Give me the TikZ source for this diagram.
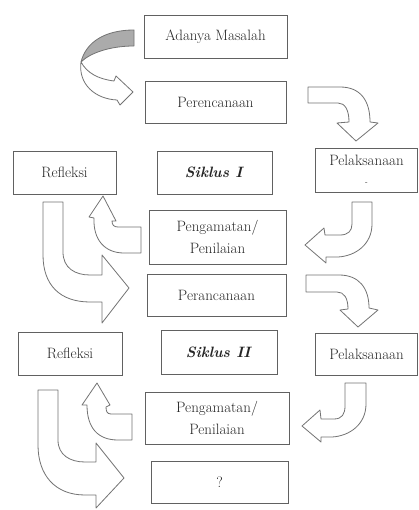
\documentclass[tikz,border=0pt]{standalone}
\begin{document}
\begin{tikzpicture}[x=1pt,y=-1pt,
  box/.style={draw=black!62, line width=0.9pt, fill=white, text=black!85,
    font=\fontsize{15}{22}\selectfont, align=center, inner sep=2pt},
  arr/.style={draw=black!55, fill=white, line width=0.8pt, line join=round},
  arrback/.style={draw=black!55, fill=black!33, line width=0.8pt, line join=round}]
\useasboundingbox (0,0) rectangle (419,510);

% boxes
\node[box, minimum width=143pt, minimum height=43pt] (adanya) at (215.5,36.5) {Adanya Masalah};
\node[box, minimum width=141pt, minimum height=42pt] (peren) at (215.5,102) {Perencanaan};
\node[box, minimum width=103pt, minimum height=43pt] (ref1) at (64.5,172.5) {Refleksi};
\node[box, minimum width=115pt, minimum height=43pt] (sik1) at (214.5,172.5) {\textbf{\textit{Siklus I}}};
\node[box, minimum width=102pt, minimum height=44pt, font=\fontsize{15}{19}\selectfont] (pel1) at (366.5,170) {Pelaksanaan\\{\scriptsize -}};
\node[box, minimum width=137pt, minimum height=54pt] (peng1) at (217.5,237) {Pengamatan/\\Penilaian};
\node[box, minimum width=139pt, minimum height=42pt] (peran) at (216.5,295) {Perancanaan};
\node[box, minimum width=104pt, minimum height=43pt] (ref2) at (70,353.5) {Refleksi};
\node[box, minimum width=116pt, minimum height=44pt] (sik2) at (219,352) {\textbf{\textit{Siklus II}}};
\node[box, minimum width=102pt, minimum height=42pt] (pel2) at (366.5,354) {Pelaksanaan};
\node[box, minimum width=144pt, minimum height=52pt] (peng2) at (217,418) {Pengamatan/\\Penilaian};
\node[box, minimum width=137pt, minimum height=42pt] (q) at (219.5,482) {?};

% arrow 1: curved arrow from Adanya Masalah to Perencanaan
\path[arrback] (134,30) .. controls (105,30) and (86,42) .. (81,62)
  .. controls (90,53) and (110,46) .. (134,46) -- cycle;
\path[arr] (81,62) .. controls (78,84) and (95,99) .. (117,100)
  -- (120,105) -- (133,92) -- (116,76) -- (114,81)
  .. controls (98,79) and (87,73) .. (81,62) -- cycle;

% arrow 2: Perencanaan -> Pelaksanaan I
\path[arr] (308,87) -- (340,87) .. controls (360,87) and (370,100) .. (370,122)
  -- (378,123) -- (356,141) -- (337,123) -- (349,122)
  .. controls (349,110) and (345,103) .. (338,103) -- (308,103) -- cycle;

% arrow 3: Pelaksanaan I -> Pengamatan I
\path[arr] (352,202) -- (372,202) -- (372,224) .. controls (372,244) and (356,256) .. (338,257)
  -- (326,257) -- (326,263) -- (305,245) -- (324,228) -- (325,235) -- (340,235)
  .. controls (348,235) and (352,231) .. (352,224) -- cycle;

% arrow 4: Pengamatan I -> Refleksi I
\path[arr] (141,227) -- (118,227) .. controls (114,227) and (112,225) .. (112,221)
  -- (116,221) -- (103,196) -- (89,217) -- (94,218)
  .. controls (93,240) and (105,253) .. (124,253) -- (141,253) -- cycle;

% arrow 5: Refleksi I -> Perancanaan
\path[arr] (43,202) -- (63,202) -- (63,252) .. controls (63,268) and (75,275) .. (90,275)
  -- (102,275) -- (102,255) -- (129,288) -- (102,323) -- (102,302) -- (90,302)
  .. controls (60,302) and (43,285) .. (43,255) -- cycle;

% arrow 6: Perancanaan -> Pelaksanaan II
\path[arr] (306,275) -- (339,275) .. controls (359,275) and (369,288) .. (369,308)
  -- (378,310) -- (358,327) -- (340,310) -- (348,309)
  .. controls (348,298) and (344,292) .. (337,292) -- (306,292) -- cycle;

% arrow 7: Pelaksanaan II -> Pengamatan II
\path[arr] (345,383) -- (366,383) -- (366,404) .. controls (366,424) and (350,436) .. (332,437)
  -- (321,437) -- (321,442) -- (302,426) -- (320,410) -- (321,419) -- (334,419)
  .. controls (342,419) and (345,414) .. (345,406) -- cycle;

% arrow 8: Pengamatan II -> Refleksi II
\path[arr] (132,414) -- (111,414) .. controls (107,414) and (106,411) .. (106,407)
  -- (110,405) -- (97,383) -- (82,405) -- (87,405)
  .. controls (87,428) and (98,440) .. (118,440) -- (132,440) -- cycle;

% arrow 9: Refleksi II -> ?
\path[arr] (38,390) -- (58,390) -- (58,440) .. controls (58,455) and (70,462) .. (85,462)
  -- (96,462) -- (96,443) -- (124,478) -- (96,508) -- (96,495) -- (85,495)
  .. controls (55,495) and (38,475) .. (38,445) -- cycle;
\end{tikzpicture}
\end{document}
